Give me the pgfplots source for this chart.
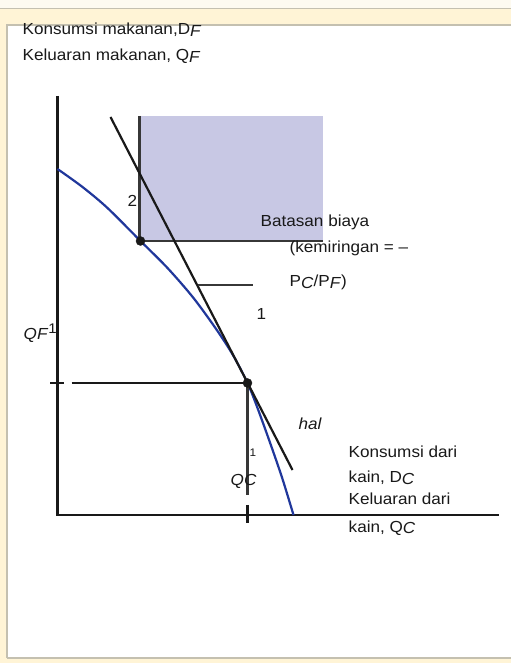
\documentclass[border=0pt]{standalone}
\usepackage{fontspec}
\setmainfont{Liberation Sans}[FakeStretch=1.07]
\usepackage{pgfplots}
\pgfplotsset{compat=1.18}

\definecolor{cream}{RGB}{255,244,214}
\definecolor{paleband}{RGB}{253,250,240}
\definecolor{framegray}{RGB}{196,192,176}
\definecolor{boxfill}{RGB}{200,200,228}
\definecolor{ppfblue}{RGB}{32,55,155}
\definecolor{ink}{RGB}{25,25,25}
\definecolor{edgegray}{RGB}{55,55,55}

% label font and italic, slightly lowered index letters
\newcommand{\lf}{\fontsize{16bp}{19bp}\selectfont}
\newcommand{\sbi}[1]{\raisebox{-1.5bp}{\textit{#1}}}
\tikzset{lbl/.style={font=\lf, text=ink, inner sep=0pt}}

\begin{document}
\begin{tikzpicture}
\begin{axis}[
  width=441bp, height=419bp, scale only axis,
  xmin=0, xmax=441, ymin=0, ymax=419,
  hide axis, clip=false,
]
% page background and panel frame
\addplot[draw=none, fill=cream] coordinates {(-57,-148) (453,-148) (453,515) (-57,515)} -- cycle;
\addplot[draw=none, fill=paleband] coordinates {(-57,507) (453,507) (453,515) (-57,515)} -- cycle;
\addplot[draw=none, fill=white] coordinates {(-50,-142) (453,-142) (453,489) (-50,489)} -- cycle;
\addplot[framegray, line width=1bp] coordinates {(-57,506.5) (453,506.5)};
\addplot[framegray, line width=2bp] coordinates {(-50.5,-142.5) (-50.5,489.5) (453,489.5)};
\addplot[framegray, line width=2bp] coordinates {(-50.5,-142.5) (453,-142.5)};

% shaded region above and to the right of point 2
\addplot[draw=none, fill=boxfill] coordinates {(82,274) (265,274) (265,399) (82,399)} -- cycle;
\addplot[edgegray, line width=2.2bp] coordinates {(82,399) (82,274) (265,274)};

% axes
\addplot[ink, line width=2.2bp] coordinates {(0,419) (0,0) (441,0)};

% production possibility frontier
\addplot[ppfblue, line width=2.2bp, smooth, tension=0.5] coordinates {
  (0,346) (25,328) (50,307) (83,274) (110,247) (136,217) (160,184)
  (176,159) (190,132) (200,107) (213,71) (225,36) (236,0)};

% budget line tangent at point 1
\addplot[ink, line width=2.2bp] coordinates {(53,398) (235,45)};

% short horizontal marker
\addplot[edgegray, line width=2.2bp] coordinates {(140,230) (195,230)};

% guide lines from point 1 to the axes
\addplot[ink, line width=2.2bp] coordinates {(-7,132) (6,132)};
\addplot[ink, line width=2.2bp] coordinates {(14,132) (190,132)};
\addplot[edgegray, line width=2.2bp] coordinates {(190,132) (190,20)};
\addplot[ink, line width=2.2bp] coordinates {(190,10) (190,-8)};

% points 1 and 2
\addplot[only marks, mark=*, mark size=4.5bp, ink] coordinates {(83,274) (190,132)};

% labels
\node[lbl, anchor=base west] at (-35,480) {Konsumsi makanan,D\sbi{F}};
\node[lbl, anchor=base west] at (-35,454) {Keluaran makanan, Q\sbi{F}};
\node[lbl, anchor=base west] at (-34,175) {\textit{QF}\raisebox{6bp}{\fontsize{14bp}{16bp}\selectfont 1}};
\node[lbl, anchor=base] at (75,308) {2};
\node[lbl, anchor=base west] at (203,288) {Batasan biaya};
\node[lbl, anchor=base west] at (232,262) {(kemiringan = –};
\node[lbl, anchor=base west] at (232,228) {P\sbi{C}/P\sbi{F})};
\node[lbl, anchor=base] at (204,195) {1};
\node[lbl, anchor=base west] at (241,85) {\textit{hal}};
\node[lbl, anchor=base west, font=\fontsize{11bp}{13bp}\selectfont] at (191.8,58) {1};
\node[lbl, anchor=base west] at (173,29) {\textit{QC}};
\node[lbl, anchor=base west] at (291,57) {Konsumsi dari};
\node[lbl, anchor=base west] at (291,32) {kain, D\sbi{C}};
\node[lbl, anchor=base west] at (291,10) {Keluaran dari};
\node[lbl, anchor=base west] at (291,-17) {kain, Q\sbi{C}};
\end{axis}
\end{tikzpicture}
\end{document}
